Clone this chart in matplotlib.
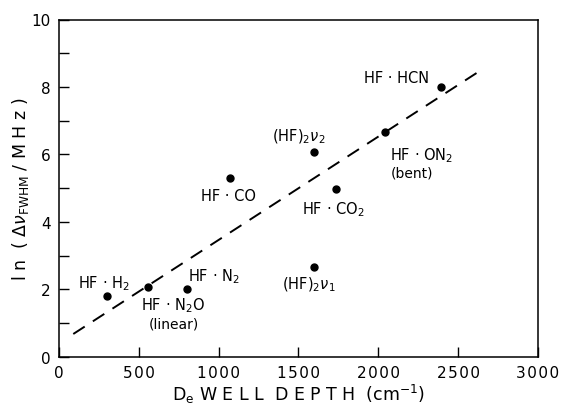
import numpy as np
import matplotlib
matplotlib.use("Agg")
import matplotlib.pyplot as plt
from matplotlib.ticker import FuncFormatter

# data
depth = [300, 560, 800, 1070, 1600, 1600, 1735, 2040, 2395]
lnwidth = [1.8, 2.07, 2.0, 5.3, 6.07, 2.66, 4.97, 6.66, 7.99]

labels = [r"HF · H$_2$", r"HF · N$_2$O", r"HF · N$_2$", r"HF · CO",
          r"(HF)$_2\nu_2$", r"(HF)$_2\nu_1$", r"HF · CO$_2$", r"HF · ON$_2$",
          r"HF · HCN"]
label_x = [283, 717, 970, 1063, 1505, 1566, 1718, 2075, 2113]
label_y = [2.2, 1.54, 2.4, 4.77, 6.54, 2.16, 4.38, 6.0, 8.28]
label_ha = ["center", "center", "center", "center", "center", "center", "center", "left", "center"]

notes = ["(linear)", "(bent)"]
note_x = [717, 2075]
note_y = [0.98, 5.47]
note_ha = ["center", "left"]

fit_x = [90, 2650]
fit_y = [0.68, 8.52]

plt.rcParams['font.family'] = ['DejaVu Sans']
plt.rcParams['mathtext.fontset'] = 'dejavusans'

SP = "\u200a"  # hair space for the wide lettering of the original


def spaced(v, pos):
    return SP.join(str(int(v)))


fig = plt.figure(figsize=(5.61, 4.10), dpi=100)
ax = fig.add_axes([0.105, 0.127, 0.854, 0.823])

ax.plot(fit_x, fit_y, color='black', linestyle=(0, (7, 5)), linewidth=1.4)
ax.plot(depth, lnwidth, 'o', color='black', markersize=5)

for t, x, y, ha in zip(labels, label_x, label_y, label_ha):
    ax.text(x, y, t, ha=ha, va='center', fontsize=10.5)
for t, x, y, ha in zip(notes, note_x, note_y, note_ha):
    ax.text(x, y, t, ha=ha, va='center', fontsize=10)

ax.set_xlim(0, 3000)
ax.set_ylim(0, 10)
ax.set_xticks(np.arange(0, 3001, 500))
ax.set_yticks(np.arange(0, 11, 2))
ax.set_yticks(np.arange(1, 10, 2), minor=True)
ax.xaxis.set_major_formatter(FuncFormatter(spaced))
ax.tick_params(direction='in', length=7, width=1, labelsize=11, pad=6)
ax.tick_params(which='minor', direction='in', length=7, width=1)

for s in ax.spines.values():
    s.set_linewidth(1.1)

ax.set_xlabel(r"D$_\mathrm{e}$ W E L L  D E P T H  (cm$^{-1}$)", fontsize=12.5, labelpad=1)
ax.set_ylabel(r"l n  ( $\Delta\nu_\mathrm{FWHM}$ / M H z )", fontsize=12.5, labelpad=0)

fig.savefig("out.png", dpi=100)
